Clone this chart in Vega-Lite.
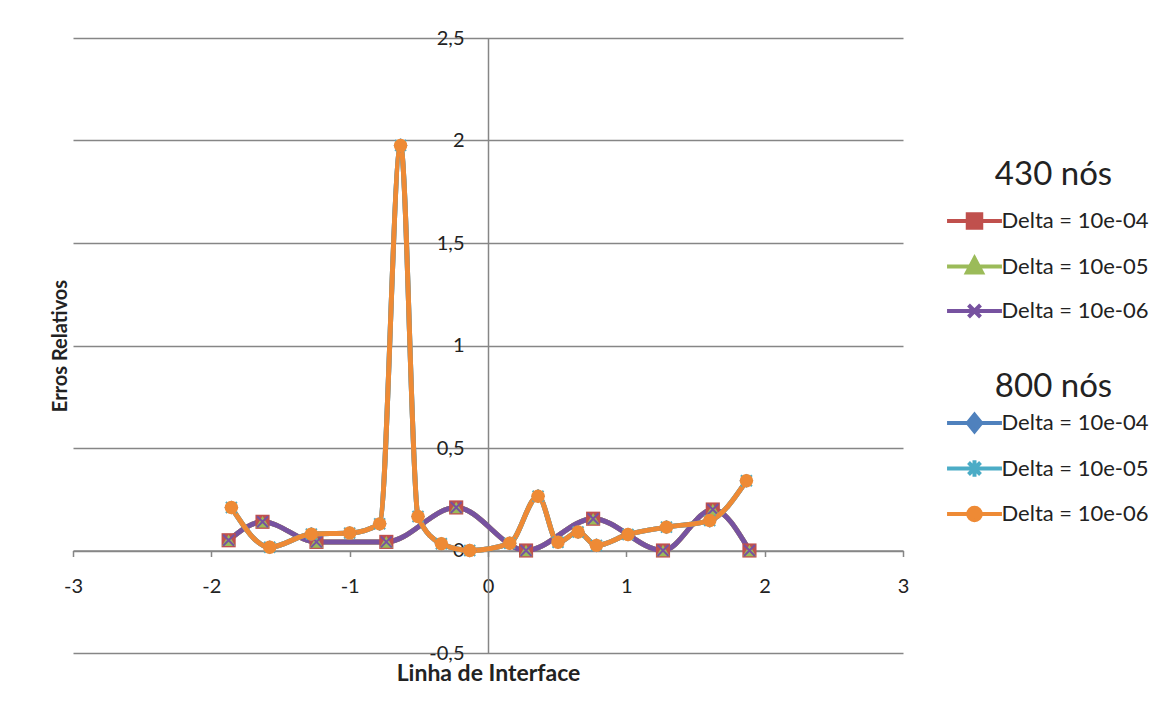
{
  "$schema": "https://vega.github.io/schema/vega-lite/v6.json",
  "width": 830,
  "height": 615,
  "autosize": {"type": "none"},
  "padding": {"left": 73, "top": 38, "right": 261, "bottom": 60},
  "background": "white",
  "config": {"view": {"stroke": null}, "font": "Lato"},
  "datasets": {
    "n430": [
      {"serie": "Delta = 10e-04", "x": -1.875, "y": 0.05},
      {"serie": "Delta = 10e-04", "x": -1.63, "y": 0.14},
      {"serie": "Delta = 10e-04", "x": -1.24, "y": 0.042},
      {"serie": "Delta = 10e-04", "x": -0.735, "y": 0.042},
      {"serie": "Delta = 10e-04", "x": -0.23, "y": 0.21},
      {"serie": "Delta = 10e-04", "x": 0.275, "y": 0.0},
      {"serie": "Delta = 10e-04", "x": 0.76, "y": 0.155},
      {"serie": "Delta = 10e-04", "x": 1.265, "y": 0.0},
      {"serie": "Delta = 10e-04", "x": 1.625, "y": 0.2},
      {"serie": "Delta = 10e-04", "x": 1.89, "y": 0.0},
      {"serie": "Delta = 10e-05", "x": -1.875, "y": 0.05},
      {"serie": "Delta = 10e-05", "x": -1.63, "y": 0.14},
      {"serie": "Delta = 10e-05", "x": -1.24, "y": 0.042},
      {"serie": "Delta = 10e-05", "x": -0.735, "y": 0.042},
      {"serie": "Delta = 10e-05", "x": -0.23, "y": 0.21},
      {"serie": "Delta = 10e-05", "x": 0.275, "y": 0.0},
      {"serie": "Delta = 10e-05", "x": 0.76, "y": 0.155},
      {"serie": "Delta = 10e-05", "x": 1.265, "y": 0.0},
      {"serie": "Delta = 10e-05", "x": 1.625, "y": 0.2},
      {"serie": "Delta = 10e-05", "x": 1.89, "y": 0.0},
      {"serie": "Delta = 10e-06", "x": -1.875, "y": 0.05},
      {"serie": "Delta = 10e-06", "x": -1.63, "y": 0.14},
      {"serie": "Delta = 10e-06", "x": -1.24, "y": 0.042},
      {"serie": "Delta = 10e-06", "x": -0.735, "y": 0.042},
      {"serie": "Delta = 10e-06", "x": -0.23, "y": 0.21},
      {"serie": "Delta = 10e-06", "x": 0.275, "y": 0.0},
      {"serie": "Delta = 10e-06", "x": 0.76, "y": 0.155},
      {"serie": "Delta = 10e-06", "x": 1.265, "y": 0.0},
      {"serie": "Delta = 10e-06", "x": 1.625, "y": 0.2},
      {"serie": "Delta = 10e-06", "x": 1.89, "y": 0.0}
    ],
    "n800": [
      {"serie": "Delta = 10e-04", "x": -1.855, "y": 0.21},
      {"serie": "Delta = 10e-04", "x": -1.578, "y": 0.016},
      {"serie": "Delta = 10e-04", "x": -1.277, "y": 0.08},
      {"serie": "Delta = 10e-04", "x": -1.0, "y": 0.085},
      {"serie": "Delta = 10e-04", "x": -0.783, "y": 0.13},
      {"serie": "Delta = 10e-04", "x": -0.632, "y": 1.976},
      {"serie": "Delta = 10e-04", "x": -0.506, "y": 0.166},
      {"serie": "Delta = 10e-04", "x": -0.337, "y": 0.033},
      {"serie": "Delta = 10e-04", "x": -0.132, "y": 0.0},
      {"serie": "Delta = 10e-04", "x": 0.157, "y": 0.035},
      {"serie": "Delta = 10e-04", "x": 0.362, "y": 0.265},
      {"serie": "Delta = 10e-04", "x": 0.506, "y": 0.04},
      {"serie": "Delta = 10e-04", "x": 0.651, "y": 0.09},
      {"serie": "Delta = 10e-04", "x": 0.784, "y": 0.025},
      {"serie": "Delta = 10e-04", "x": 1.012, "y": 0.078},
      {"serie": "Delta = 10e-04", "x": 1.29, "y": 0.114},
      {"serie": "Delta = 10e-04", "x": 1.603, "y": 0.146},
      {"serie": "Delta = 10e-04", "x": 1.868, "y": 0.34},
      {"serie": "Delta = 10e-05", "x": -1.855, "y": 0.21},
      {"serie": "Delta = 10e-05", "x": -1.578, "y": 0.016},
      {"serie": "Delta = 10e-05", "x": -1.277, "y": 0.08},
      {"serie": "Delta = 10e-05", "x": -1.0, "y": 0.085},
      {"serie": "Delta = 10e-05", "x": -0.783, "y": 0.13},
      {"serie": "Delta = 10e-05", "x": -0.632, "y": 1.976},
      {"serie": "Delta = 10e-05", "x": -0.506, "y": 0.166},
      {"serie": "Delta = 10e-05", "x": -0.337, "y": 0.033},
      {"serie": "Delta = 10e-05", "x": -0.132, "y": 0.0},
      {"serie": "Delta = 10e-05", "x": 0.157, "y": 0.035},
      {"serie": "Delta = 10e-05", "x": 0.362, "y": 0.265},
      {"serie": "Delta = 10e-05", "x": 0.506, "y": 0.04},
      {"serie": "Delta = 10e-05", "x": 0.651, "y": 0.09},
      {"serie": "Delta = 10e-05", "x": 0.784, "y": 0.025},
      {"serie": "Delta = 10e-05", "x": 1.012, "y": 0.078},
      {"serie": "Delta = 10e-05", "x": 1.29, "y": 0.114},
      {"serie": "Delta = 10e-05", "x": 1.603, "y": 0.146},
      {"serie": "Delta = 10e-05", "x": 1.868, "y": 0.34},
      {"serie": "Delta = 10e-06", "x": -1.855, "y": 0.21},
      {"serie": "Delta = 10e-06", "x": -1.578, "y": 0.016},
      {"serie": "Delta = 10e-06", "x": -1.277, "y": 0.08},
      {"serie": "Delta = 10e-06", "x": -1.0, "y": 0.085},
      {"serie": "Delta = 10e-06", "x": -0.783, "y": 0.13},
      {"serie": "Delta = 10e-06", "x": -0.632, "y": 1.976},
      {"serie": "Delta = 10e-06", "x": -0.506, "y": 0.166},
      {"serie": "Delta = 10e-06", "x": -0.337, "y": 0.033},
      {"serie": "Delta = 10e-06", "x": -0.132, "y": 0.0},
      {"serie": "Delta = 10e-06", "x": 0.157, "y": 0.035},
      {"serie": "Delta = 10e-06", "x": 0.362, "y": 0.265},
      {"serie": "Delta = 10e-06", "x": 0.506, "y": 0.04},
      {"serie": "Delta = 10e-06", "x": 0.651, "y": 0.09},
      {"serie": "Delta = 10e-06", "x": 0.784, "y": 0.025},
      {"serie": "Delta = 10e-06", "x": 1.012, "y": 0.078},
      {"serie": "Delta = 10e-06", "x": 1.29, "y": 0.114},
      {"serie": "Delta = 10e-06", "x": 1.603, "y": 0.146},
      {"serie": "Delta = 10e-06", "x": 1.868, "y": 0.34}
    ]
  },
  "encoding": {
    "x": {
      "field": "x", "type": "quantitative",
      "scale": {"domain": [-3, 3], "nice": false, "zero": false},
      "axis": {
        "orient": "bottom", "offset": -102.5,
        "values": [-3, -2, -1, 0, 1, 2, 3],
        "grid": false,
        "domainColor": "#868686", "domainWidth": 1.5,
        "tickColor": "#868686", "tickSize": 6, "tickWidth": 1.5,
        "labelExpr": "toString(datum.value)",
        "labelPadding": 20, "labelFontSize": 20, "labelFont": "Lato", "labelColor": "#222222",
        "labelFlush": false, "labelOverlap": false,
        "title": "Linha de Interface", "titleFont": "Lato", "titleFontSize": 23,
        "titleFontWeight": "bold", "titleColor": "#222222",
        "titleY": 122.5, "titleBaseline": "middle"
      }
    },
    "y": {
      "field": "y", "type": "quantitative",
      "scale": {"domain": [-0.5, 2.5], "nice": false, "zero": false},
      "axis": {
        "orient": "left", "offset": -415,
        "values": [-0.5, 0, 0.5, 1, 1.5, 2, 2.5],
        "grid": true, "gridColor": "#868686", "gridWidth": 1.5,
        "domainColor": "#868686", "domainWidth": 1.5,
        "ticks": false,
        "labelExpr": "replace(toString(datum.value), '.', ',')",
        "labelPadding": 24, "labelFontSize": 20, "labelFont": "Lato", "labelColor": "#222222",
        "labelOverlap": false,
        "title": "Erros Relativos", "titleFont": "Lato", "titleFontSize": 20,
        "titleFontWeight": "bold", "titleColor": "#222222",
        "titleAngle": -90, "titleX": -428, "titleY": 307.5,
        "titleBaseline": "middle", "titleAlign": "center"
      }
    }
  },
  "layer": [
    {
      "data": {"name": "n430"},
      "layer": [
        {
          "mark": {"type": "line", "interpolate": "monotone", "strokeWidth": 5, "strokeJoin": "round", "strokeCap": "round"},
          "encoding": {
            "color": {
              "field": "serie", "type": "nominal",
              "scale": {"domain": ["Delta = 10e-06", "Delta = 10e-05", "Delta = 10e-04"], "range": ["#7752A0", "#9BBB59", "#C0504D"]},
              "legend": null
            }
          }
        },
        {
          "transform": [{"filter": "datum.serie === 'Delta = 10e-04'"}],
          "mark": {"type": "point", "shape": "square", "filled": true, "size": 200, "opacity": 1},
          "encoding": {"color": {"field": "serie", "type": "nominal", "legend": null}}
        },
        {
          "transform": [{"filter": "datum.serie === 'Delta = 10e-05'"}],
          "mark": {"type": "point", "shape": "triangle-up", "filled": true, "size": 180, "opacity": 1},
          "encoding": {"color": {"field": "serie", "type": "nominal", "legend": null}}
        },
        {
          "transform": [{"filter": "datum.serie === 'Delta = 10e-06'"}],
          "mark": {"type": "point", "shape": "M-1,-1L1,1M-1,1L1,-1", "filled": false, "size": 120, "strokeWidth": 2, "opacity": 1},
          "encoding": {"color": {"field": "serie", "type": "nominal", "legend": null}}
        },
        {
          "transform": [{"filter": "false"}],
          "mark": {"type": "point", "filled": true, "opacity": 1},
          "encoding": {
            "fill": {
              "field": "serie", "type": "nominal",
              "scale": {"domain": ["Delta = 10e-04", "Delta = 10e-05", "Delta = 10e-06"], "range": ["#C0504D", "#9BBB59", "#7752A0"]},
              "legend": {
                "title": "430 nós", "orient": "none", "legendX": 884.5, "legendY": 121,
                "direction": "vertical", "padding": 0,
                "titleFont": "Lato", "titleFontSize": 33, "titleFontWeight": "normal", "titleColor": "#222222",
                "titleAnchor": "middle", "titleAlign": "center", "titlePadding": 12,
                "labelFont": "Lato", "labelFontSize": 22, "labelColor": "#222222",
                "labelOffset": 10, "labelLimit": 300,
                "symbolSize": 900, "symbolStrokeWidth": 4, "symbolOpacity": 1, "rowPadding": 13.5
              }
            },
            "stroke": {
              "field": "serie", "type": "nominal",
              "scale": {"domain": ["Delta = 10e-04", "Delta = 10e-05", "Delta = 10e-06"], "range": ["#C0504D", "#9BBB59", "#7752A0"]},
              "legend": {
                "title": "430 nós", "orient": "none", "legendX": 884.5, "legendY": 121,
                "direction": "vertical", "padding": 0,
                "titleFont": "Lato", "titleFontSize": 33, "titleFontWeight": "normal", "titleColor": "#222222",
                "titleAnchor": "middle", "titleAlign": "center", "titlePadding": 12,
                "labelFont": "Lato", "labelFontSize": 22, "labelColor": "#222222",
                "labelOffset": 10, "labelLimit": 300,
                "symbolSize": 900, "symbolStrokeWidth": 4, "symbolOpacity": 1, "rowPadding": 13.5
              }
            },
            "shape": {
              "field": "serie", "type": "nominal",
              "scale": {
                "domain": ["Delta = 10e-04", "Delta = 10e-05", "Delta = 10e-06"],
                "range": [
                  "M-1.83,0H1.83M-0.45,-0.45H0.45V0.45H-0.45Z",
                  "M-1.83,0H1.83M0,-0.55L0.5,0.4H-0.5Z",
                  "M-1.83,0H1.83M-0.4,-0.4L0.4,0.4M-0.4,0.4L0.4,-0.4"
                ]
              },
              "legend": {
                "title": "430 nós", "orient": "none", "legendX": 884.5, "legendY": 121,
                "direction": "vertical", "padding": 0,
                "titleFont": "Lato", "titleFontSize": 33, "titleFontWeight": "normal", "titleColor": "#222222",
                "titleAnchor": "middle", "titleAlign": "center", "titlePadding": 12,
                "labelFont": "Lato", "labelFontSize": 22, "labelColor": "#222222",
                "labelOffset": 10, "labelLimit": 300,
                "symbolSize": 900, "symbolStrokeWidth": 4, "symbolOpacity": 1, "rowPadding": 13.5
              }
            }
          }
        }
      ]
    },
    {
      "data": {"name": "n800"},
      "layer": [
        {
          "mark": {"type": "line", "interpolate": "monotone", "strokeWidth": 5, "strokeJoin": "round", "strokeCap": "round"},
          "encoding": {
            "color": {
              "field": "serie", "type": "nominal",
              "scale": {"domain": ["Delta = 10e-06", "Delta = 10e-05", "Delta = 10e-04"], "range": ["#EE8A35", "#4BACC6", "#4F81BD"]},
              "legend": null
            }
          }
        },
        {
          "transform": [{"filter": "datum.serie === 'Delta = 10e-04'"}],
          "mark": {"type": "point", "shape": "diamond", "filled": true, "size": 200, "opacity": 1},
          "encoding": {"color": {"field": "serie", "type": "nominal", "legend": null}}
        },
        {
          "transform": [{"filter": "datum.serie === 'Delta = 10e-05'"}],
          "mark": {"type": "point", "shape": "M-1,-1L1,1M-1,1L1,-1M0,-1.2V1.2", "filled": false, "size": 120, "strokeWidth": 2, "opacity": 1},
          "encoding": {"color": {"field": "serie", "type": "nominal", "legend": null}}
        },
        {
          "transform": [{"filter": "datum.serie === 'Delta = 10e-06'"}],
          "mark": {"type": "point", "shape": "circle", "filled": true, "size": 180, "opacity": 1},
          "encoding": {"color": {"field": "serie", "type": "nominal", "legend": null}}
        },
        {
          "transform": [{"filter": "false"}],
          "mark": {"type": "point", "filled": true, "opacity": 1},
          "encoding": {
            "fill": {
              "field": "serie", "type": "nominal",
              "scale": {"domain": ["Delta = 10e-04", "Delta = 10e-05", "Delta = 10e-06"], "range": ["#4F81BD", "#4BACC6", "#EE8A35"]},
              "legend": {
                "title": "800 nós", "orient": "none", "legendX": 884.5, "legendY": 333,
                "direction": "vertical", "padding": 0,
                "titleFont": "Lato", "titleFontSize": 33, "titleFontWeight": "normal", "titleColor": "#222222",
                "titleAnchor": "middle", "titleAlign": "center", "titlePadding": 2,
                "labelFont": "Lato", "labelFontSize": 22, "labelColor": "#222222",
                "labelOffset": 10, "labelLimit": 300,
                "symbolSize": 900, "symbolStrokeWidth": 4, "symbolOpacity": 1, "rowPadding": 11.5
              }
            },
            "stroke": {
              "field": "serie", "type": "nominal",
              "scale": {"domain": ["Delta = 10e-04", "Delta = 10e-05", "Delta = 10e-06"], "range": ["#4F81BD", "#4BACC6", "#EE8A35"]},
              "legend": {
                "title": "800 nós", "orient": "none", "legendX": 884.5, "legendY": 333,
                "direction": "vertical", "padding": 0,
                "titleFont": "Lato", "titleFontSize": 33, "titleFontWeight": "normal", "titleColor": "#222222",
                "titleAnchor": "middle", "titleAlign": "center", "titlePadding": 2,
                "labelFont": "Lato", "labelFontSize": 22, "labelColor": "#222222",
                "labelOffset": 10, "labelLimit": 300,
                "symbolSize": 900, "symbolStrokeWidth": 4, "symbolOpacity": 1, "rowPadding": 11.5
              }
            },
            "shape": {
              "field": "serie", "type": "nominal",
              "scale": {
                "domain": ["Delta = 10e-04", "Delta = 10e-05", "Delta = 10e-06"],
                "range": [
                  "M-1.83,0H1.83M0,-0.55L0.45,0L0,0.55L-0.45,0Z",
                  "M-1.83,0H1.83M-0.4,-0.4L0.4,0.4M-0.4,0.4L0.4,-0.4M0,-0.55V0.55",
                  "M-1.83,0H1.83M0.42,0A0.42,0.42,0,1,1,-0.42,0A0.42,0.42,0,1,1,0.42,0Z"
                ]
              },
              "legend": {
                "title": "800 nós", "orient": "none", "legendX": 884.5, "legendY": 333,
                "direction": "vertical", "padding": 0,
                "titleFont": "Lato", "titleFontSize": 33, "titleFontWeight": "normal", "titleColor": "#222222",
                "titleAnchor": "middle", "titleAlign": "center", "titlePadding": 2,
                "labelFont": "Lato", "labelFontSize": 22, "labelColor": "#222222",
                "labelOffset": 10, "labelLimit": 300,
                "symbolSize": 900, "symbolStrokeWidth": 4, "symbolOpacity": 1, "rowPadding": 11.5
              }
            }
          }
        }
      ]
    }
  ],
  "resolve": {"scale": {"color": "independent", "fill": "independent", "stroke": "independent", "shape": "independent"}}
}
